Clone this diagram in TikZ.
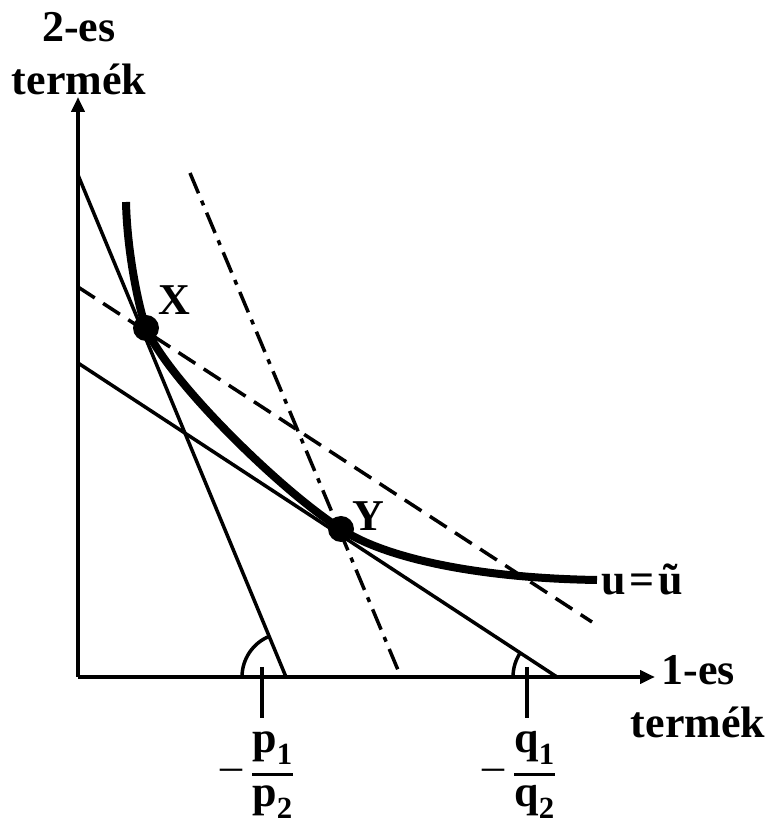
\documentclass[tikz,border=0pt]{standalone}
\usepackage{fontspec}
\setmainfont{Liberation Serif}
\usepackage{amsmath}
\usetikzlibrary{arrows.meta,positioning,calc}
\tikzset{
  axis/.style={line width=4pt,-{Triangle[length=15pt,width=13pt]}},
  budget/.style={line width=3.5pt},
  shifted/.style={line width=3.5pt,dash pattern=on 20pt off 10pt},
  dashdot/.style={line width=3.5pt,dash pattern=on 22pt off 8pt on 5pt off 8pt},
  utility/.style={line width=8pt},
  lbl/.style={font=\fontsize{44}{53}\selectfont\bfseries,align=center,inner sep=0pt},
}
\newcommand{\negfrac}[2]{\raisebox{1pt}{\mdseries\fontsize{44}{44}\selectfont –}\kern9pt$\displaystyle{\text{#1}\above 3pt\text{#2}}$}

\begin{document}
\begin{tikzpicture}[x=1pt,y=1pt,>=Latex]
  \useasboundingbox (0,0) rectangle (767,825);
  % axes
  \coordinate (O) at (78,148);
  \coordinate (ytop) at (78,728);
  \coordinate (xend) at (655,148);
  \draw[axis] (O) -- (ytop);
  \draw[axis] (O) -- (xend);
  \node[lbl] (ylab) at (79,771) {2-es\\termék};
  \node[lbl] (xlab) at (698,128) {1-es\\termék};
  % budget lines and their parallels
  \coordinate (pA) at (78,650);  \coordinate (pB) at (286,148);
  \coordinate (qA) at (78,462);  \coordinate (qB) at (557,148);
  \coordinate (dA) at (78,538);  \coordinate (dB) at (592,203);
  \coordinate (eA) at (190,652); \coordinate (eB) at (398,155);
  \draw[budget] (pA) -- (pB);
  \draw[budget] (qA) -- (qB);
  \draw[shifted] (dA) -- (dB);
  \draw[dashdot] (eA) -- (eB);
  % slope angles
  \draw[budget] ($(pB)+(-44,0)$) arc[start angle=180,end angle=112.5,radius=44];
  \draw[budget] ($(qB)+(-44,0)$) arc[start angle=180,end angle=146.8,radius=44];
  % indifference curve
  \coordinate (X) at (146,497);
  \coordinate (Y) at (341,296);
  \draw[utility] (126,623) .. controls (127,575) and (138,520) .. (X)
    .. controls (168,445) and (281,334) .. (Y)
    .. controls (381,269) and (470,247) .. (597,245) coordinate (uend);
  \fill (X) circle (13);
  \fill (Y) circle (13);
  \node[lbl,anchor=base west] (xname) at (158,510) {X};
  \node[lbl,anchor=base west] (yname) at (352,294) {Y};
  \node[lbl,anchor=base west] (uname) at (601,230) {u\kern4pt=\kern4ptũ};
  % slope ticks
  \coordinate (pt1) at (262,158); \coordinate (pt2) at (262,107);
  \coordinate (qt1) at (527,158); \coordinate (qt2) at (527,107);
  \draw[budget] (pt1) -- (pt2);
  \draw[budget] (qt1) -- (qt2);
  \node[lbl] (pfrac) at (257,50) {\negfrac{p\textsubscript{1}}{p\textsubscript{2}}};
  \node[lbl] (qfrac) at (519,50) {\negfrac{q\textsubscript{1}}{q\textsubscript{2}}};
\end{tikzpicture}
\end{document}
